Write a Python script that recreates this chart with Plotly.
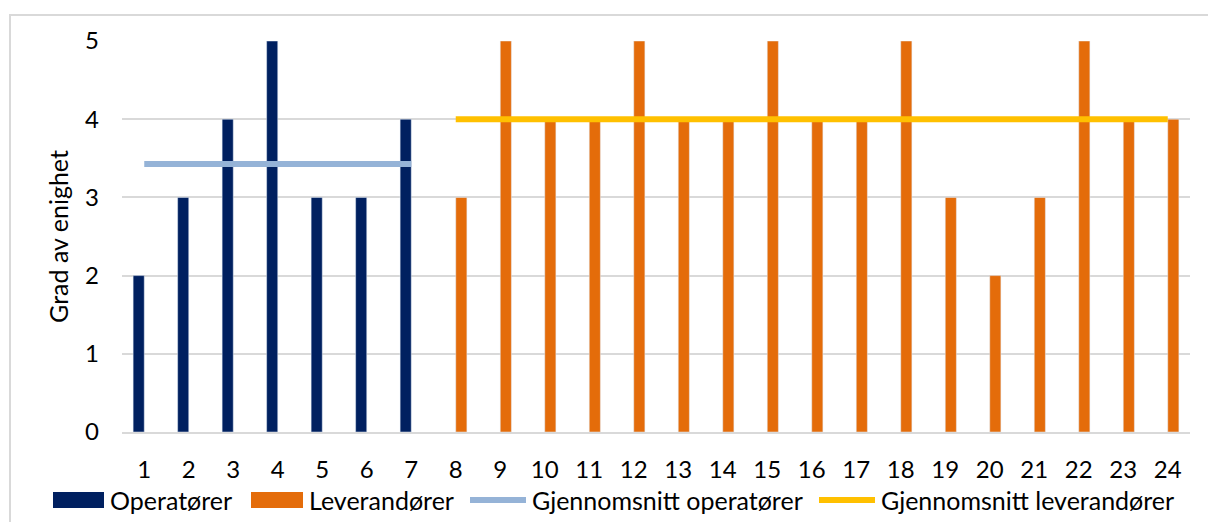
import plotly.graph_objects as go

# Respondent numbers and their agreement scores
categories = [str(i) for i in range(1, 25)]
operatorer = [2, 3, 4, 5, 3, 3, 4]
leverandorer = [3, 5, 4, 4, 5, 4, 4, 5, 4, 4, 5, 3, 2, 3, 5, 4, 4]

op_cats = categories[:len(operatorer)]
lev_cats = categories[len(operatorer):]

op_avg = sum(operatorer) / len(operatorer)
lev_avg = sum(leverandorer) / len(leverandorer)

NAVY = "#002060"
ORANGE = "#E46C0A"
LIGHT_BLUE = "#95B3D7"
YELLOW = "#FFC000"
GRID = "#D9D9D9"
FONT = "Lato"
FS = 25
TICK_FS = 24

W, H = 1208, 522
L, R, T, B = 122, 18, 41, 90
PW, PH = W - L - R, H - T - B


def px_x(x):
    return (x - L) / PW


def px_y(y):
    return (H - B - y) / PH


fig = go.Figure()

fig.add_trace(go.Bar(
    x=op_cats + lev_cats,
    y=operatorer + [None] * len(lev_cats),
    name="Operatører", marker_color=NAVY, showlegend=False,
))
fig.add_trace(go.Bar(
    x=op_cats + lev_cats,
    y=[None] * len(op_cats) + leverandorer,
    name="Leverandører", marker_color=ORANGE, showlegend=False,
))
fig.add_trace(go.Scatter(
    x=op_cats, y=[op_avg] * len(op_cats), mode="lines",
    name="Gjennomsnitt operatører", line=dict(color=LIGHT_BLUE, width=6),
    showlegend=False,
))
fig.add_trace(go.Scatter(
    x=lev_cats, y=[lev_avg] * len(lev_cats), mode="lines",
    name="Gjennomsnitt leverandører", line=dict(color=YELLOW, width=6),
    showlegend=False,
))

# Outer chart frame
fig.add_shape(type="rect", xref="paper", yref="paper",
              x0=px_x(10), x1=px_x(1230), y0=px_y(560), y1=px_y(15),
              line=dict(color=GRID, width=2), fillcolor="rgba(0,0,0,0)",
              layer="below")

# Legend row below the axis
legend_items = [
    ("Operatører", NAVY, "rect", 53, 104),
    ("Leverandører", ORANGE, "rect", 251, 303),
    ("Gjennomsnitt operatører", LIGHT_BLUE, "line", 470, 526),
    ("Gjennomsnitt leverandører", YELLOW, "line", 819, 875),
]
ly = 500
for label, color, kind, x0, x1 in legend_items:
    if kind == "rect":
        fig.add_shape(type="rect", xref="paper", yref="paper",
                      x0=px_x(x0), x1=px_x(x1), y0=px_y(ly + 8), y1=px_y(ly - 8),
                      line=dict(width=0), fillcolor=color)
    else:
        fig.add_shape(type="line", xref="paper", yref="paper",
                      x0=px_x(x0), x1=px_x(x1), y0=px_y(ly), y1=px_y(ly),
                      line=dict(color=color, width=6))
    fig.add_annotation(text=label, xref="paper", yref="paper",
                       x=px_x(x1 + 4), y=px_y(ly), xanchor="left", yanchor="middle",
                       showarrow=False, font=dict(family=FONT, size=FS, color="#000000"))

fig.update_layout(
    width=W, height=H,
    margin=dict(l=L, r=R, t=T, b=B),
    paper_bgcolor="white", plot_bgcolor="white",
    barmode="group", bargap=0.5, bargroupgap=0,
    font=dict(family=FONT, size=FS, color="#000000"),
)
fig.update_xaxes(
    type="category", categoryorder="array", categoryarray=categories,
    showline=True, linecolor=GRID, linewidth=2, showgrid=False,
    ticks="", ticklabelstandoff=15, tickfont=dict(size=TICK_FS),
)
fig.update_yaxes(
    range=[0, 5], dtick=1, showgrid=True, gridcolor=GRID, gridwidth=2,
    zeroline=False, ticks="", ticklabelstandoff=22, tickfont=dict(size=TICK_FS),
    title=dict(text="Grad av enighet", standoff=9,
               font=dict(family=FONT, size=FS)),
)

fig.write_html("out.html")
